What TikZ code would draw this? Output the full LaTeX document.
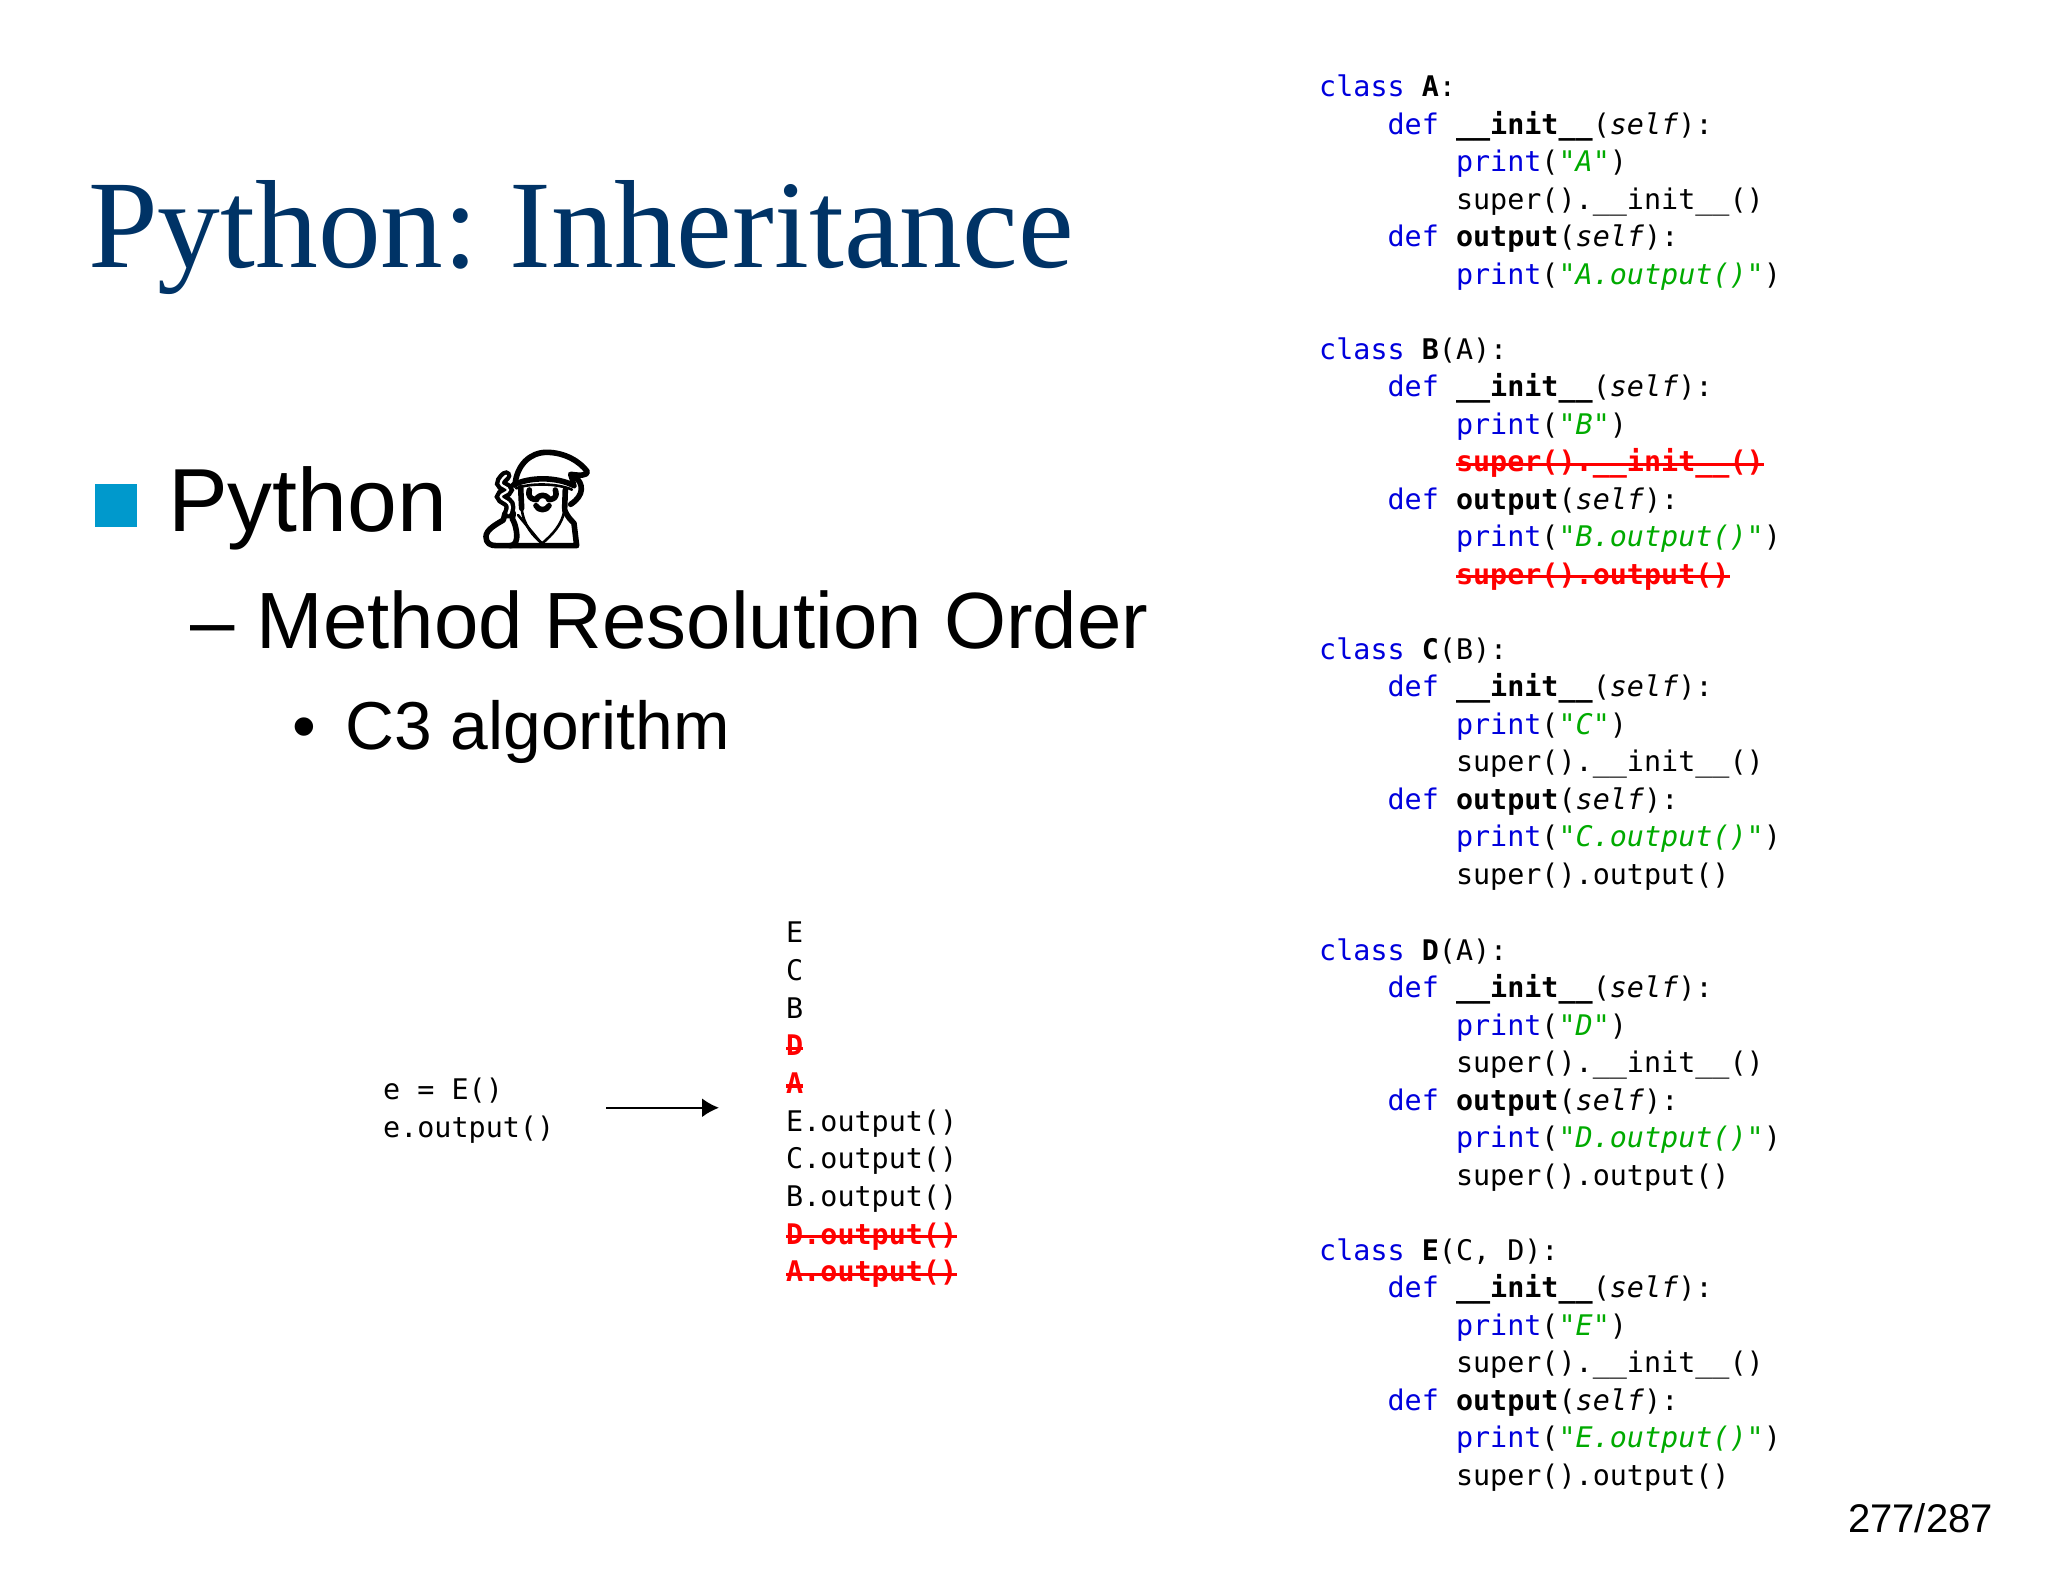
\documentclass[tikz,border=0pt]{standalone}
\usepackage{fontspec}
\usepackage{xcolor}
\usetikzlibrary{arrows.meta}
\setmainfont{Liberation Sans}
\newfontfamily\titlefont{Liberation Serif}
\newfontfamily\codefont{DejaVu Sans Mono}
\definecolor{titleblue}{HTML}{003366}
\definecolor{squareblue}{HTML}{0099CC}
\definecolor{kwblue}{HTML}{0000DD}
\definecolor{strgreen}{HTML}{00AA00}
\newsavebox{\strikebox}
\newcommand{\kw}[1]{\textcolor{kwblue}{#1}}
\newcommand{\strg}[1]{\textcolor{strgreen}{\textit{"#1"}}}
\newcommand{\slf}{\textit{self}}
\newcommand{\tabin}{\ \ \ \ }
\newcommand{\struck}[1]{\sbox{\strikebox}{\color{red}\bfseries #1}\usebox{\strikebox}\llap{\textcolor{red}{\rule[0.2em]{\wd\strikebox}{0.12em}}}}
\newcommand{\initdef}{\tabin\kw{def} \textbf{\_\_init\_\_}(\slf):}
\newcommand{\outdef}{\tabin\kw{def} \textbf{output}(\slf):}
\newcommand{\printline}[1]{\tabin\tabin\kw{print}(\strg{#1})}
\newcommand{\superinit}{\tabin\tabin super().\_\_init\_\_()}
\newcommand{\superout}{\tabin\tabin super().output()}
\tikzset{
    slidetext/.style={anchor=base west,inner sep=0pt},
    codeblock/.style={anchor=north west,inner sep=0pt,align=left,font=\codefont\fontsize{28.4}{37.45}\selectfont},
    traceblock/.style={codeblock,font=\codefont\fontsize{28.4}{37.65}\selectfont},
    magestroke/.style={line width=5.6pt,line cap=round,line join=round},
    magethin/.style={line width=2.6pt,line cap=round,line join=round},
}
\frenchspacing
\begin{document}
\begin{tikzpicture}[x=1pt,y=-1pt,>={Latex[length=17pt,width=19pt]}]
        \useasboundingbox (0,0) rectangle (2048,1582);
        \node[slidetext,text=titleblue,font=\titlefont\fontsize{125.4}{126}\selectfont] (title) at (88,267) {Python: Inheritance};
        \node[minimum width=42pt,minimum height=43pt,inner sep=0pt,fill=squareblue] (square) at (116,505.5) {};
        \node[slidetext,font=\fontsize{89.6}{90}\selectfont] (item) at (168,531) {Python};
        \begin{scope}[shift={(480,445)},x=0.3333pt,y=-0.3333pt]
            \draw[magestroke] (105,120) .. controls (110,60) and (150,22) .. (200,22) .. controls (255,22) and (300,50) .. (322,80) .. controls (322,92) and (300,92) .. (272,88) .. controls (275,95) and (278,105) .. (280,118);
            \draw[magestroke] (100,120) .. controls (150,95) and (230,95) .. (282,122);
            \draw[magethin] (108,130) .. controls (150,114) and (230,114) .. (276,134);
            \draw[magestroke] (285,95) .. controls (310,115) and (315,150) .. (272,178);
            \draw[magestroke] (122,128) -- (125,190);
            \draw[magestroke] (256,134) -- (254,190);
            \draw[magestroke,rounded corners=6pt] (148,135) -- (144,160) -- (170,164);
            \draw[magestroke,rounded corners=6pt] (226,135) -- (232,160) -- (206,164);
            \draw[magestroke] (170,160) .. controls (180,148) and (196,148) .. (206,160);
            \draw[magestroke] (168,182) .. controls (175,198) and (200,198) .. (207,182);
            \draw[magethin] (125,190) .. controls (130,240) and (160,275) .. (187,295) .. controls (215,270) and (248,240) .. (254,190);
            \draw[magestroke] (254,195) .. controls (262,215) and (270,222) .. (282,235) -- (290,302) -- (50,302) .. controls (30,302) and (18,295) .. (18,275) .. controls (18,255) and (45,240) .. (70,225) -- (75,205);
            \draw[magestroke] (100,205) -- (97,222) .. controls (106,235) and (112,265) .. (110,280) .. controls (108,295) and (100,302) .. (90,302);
            \draw[magethin] (114,210) -- (185,296);
            \draw[line width=4.4pt,double=white,double distance=2.2pt,line cap=round] plot[smooth,tension=0.8] coordinates {(78,92) (62,115) (84,135) (62,155) (88,178) (85,205)};
        \end{scope}
        \node[slidetext,font=\fontsize{79.8}{80}\selectfont] (subitem) at (190,648) {– Method Resolution Order};
        \node[slidetext,font=\fontsize{67.8}{68}\selectfont] (subsubitem) at (292,749) {•\hspace{29.5pt}C3 algorithm};
        \node[slidetext,anchor=base east,font=\fontsize{40}{40}\selectfont] (pagenum) at (1993,1532) {277/287};
        \node[codeblock] (classA) at (1319,75) {\kw{class} \textbf{A}:\\
\initdef\\
\printline{A}\\
\superinit\\
\outdef\\
\printline{A.output()}};
        \node[codeblock] (classB) at (1319,337.5) {\kw{class} \textbf{B}(A):\\
\initdef\\
\printline{B}\\
\tabin\tabin\struck{super().\_\_init\_\_()}\\
\outdef\\
\printline{B.output()}\\
\tabin\tabin\struck{super().output()}};
        \node[codeblock] (classC) at (1319,637.5) {\kw{class} \textbf{C}(B):\\
\initdef\\
\printline{C}\\
\superinit\\
\outdef\\
\printline{C.output()}\\
\superout};
        \node[codeblock] (classD) at (1319,938.5) {\kw{class} \textbf{D}(A):\\
\initdef\\
\printline{D}\\
\superinit\\
\outdef\\
\printline{D.output()}\\
\superout};
        \node[codeblock] (classE) at (1319,1238.5) {\kw{class} \textbf{E}(C, D):\\
\initdef\\
\printline{E}\\
\superinit\\
\outdef\\
\printline{E.output()}\\
\superout};
        \node[traceblock] (call) at (383,1078) {e = E()\\e.output()};
        \node[traceblock] (mro) at (786,922) {E\\C\\B\\\struck{D}\\\struck{A}\\E.output()\\C.output()\\B.output()\\\struck{D.output()}\\\struck{A.output()}};
        \draw[->,line width=2pt,shorten <=52pt,shorten >=67pt] ([yshift=3pt]call.east) -- ([yshift=3pt]call.east -| mro.west);
    \end{tikzpicture}
\end{document}
